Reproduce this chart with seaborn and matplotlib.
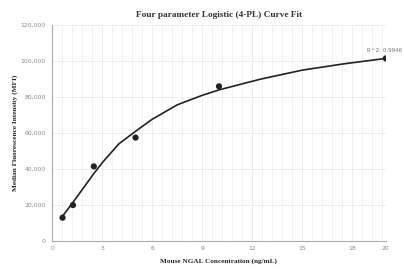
import numpy as np
import pandas as pd
import matplotlib
matplotlib.use("Agg")
import matplotlib.pyplot as plt
import seaborn as sns
from matplotlib.ticker import FuncFormatter, MultipleLocator

# Data
conc = [0.625, 1.25, 2.5, 5, 10, 20]
mfi = [13000, 20000, 41500, 57500, 86000, 101500]
fit_x = [0.625, 1.25, 2.5, 3, 4, 5, 6, 7.5, 9, 10, 12.5, 15, 17.5, 20]
fit_y = [13800, 21500, 37500, 43500, 54000, 61000, 67700, 75700, 81000, 84000, 90000, 95000, 98500, 101500]
x_ticks = [0, 3, 6, 9, 12, 15, 18, 20]
y_ticks = [0, 20000, 40000, 60000, 80000, 100000, 120000]
title = "Four parameter Logistic (4-PL) Curve Fit"
xlabel = "Mouse NGAL Concentration (ng/mL)"
ylabel = "Median Fluorescence Intensity (MFI)"
r2_text = "R^2: 0.9946"

sns.set_theme(style="white")
plt.rcParams['font.family'] = ['DejaVu Sans']

fig = plt.figure(figsize=(4.04, 2.73), dpi=100)
ax = fig.add_axes([0.129, 0.117, 0.826, 0.791])

pts = pd.DataFrame({"x": conc, "y": mfi})
fit = pd.DataFrame({"x": fit_x, "y": fit_y})

sns.lineplot(data=fit, x="x", y="y", ax=ax, color="#222222", linewidth=1.2, zorder=3)
sns.scatterplot(data=pts, x="x", y="y", ax=ax, color="#222222", s=20, edgecolor="none", zorder=4)

ax.set_xlim(0, 20)
ax.set_ylim(0, 120000)
ax.set_xticks(x_ticks)
ax.set_yticks(y_ticks)
ax.xaxis.set_minor_locator(MultipleLocator(0.6))
ax.yaxis.set_major_formatter(FuncFormatter(lambda v, p: f"{int(v):,}"))
ax.grid(True, which="major", color="#e8ecef", linewidth=0.6)
ax.grid(True, which="minor", axis="x", color="#eef1f3", linewidth=0.6)
ax.set_axisbelow(True)

for s in ["top", "right"]:
    ax.spines[s].set_visible(False)
for s in ["left", "bottom"]:
    ax.spines[s].set_color("#aaaaaa")
    ax.spines[s].set_linewidth(0.8)

ax.tick_params(axis="both", which="major", labelsize=4.4, labelcolor="#888888",
               color="#aaaaaa", length=3, width=0.6, direction="out", pad=1.5)
ax.tick_params(axis="both", which="minor", length=0)
ax.tick_params(axis="x", which="major", length=2)

ax.set_xlabel(xlabel, fontsize=5.2, fontweight="bold", family="Liberation Serif", labelpad=5)
ax.set_ylabel(ylabel, fontsize=5.2, fontweight="bold", family="Liberation Serif", labelpad=2)

ax.set_title(title, fontsize=6.7, fontweight="bold", family="Liberation Serif",
             color="#333333", pad=5.5)

ax.annotate(r2_text, xy=(conc[-1], mfi[-1]), xytext=(-1, 4), textcoords="offset points",
            ha="center", va="bottom", fontsize=4.1, color="#777777", annotation_clip=False)

fig.savefig("out.png", dpi=100)
